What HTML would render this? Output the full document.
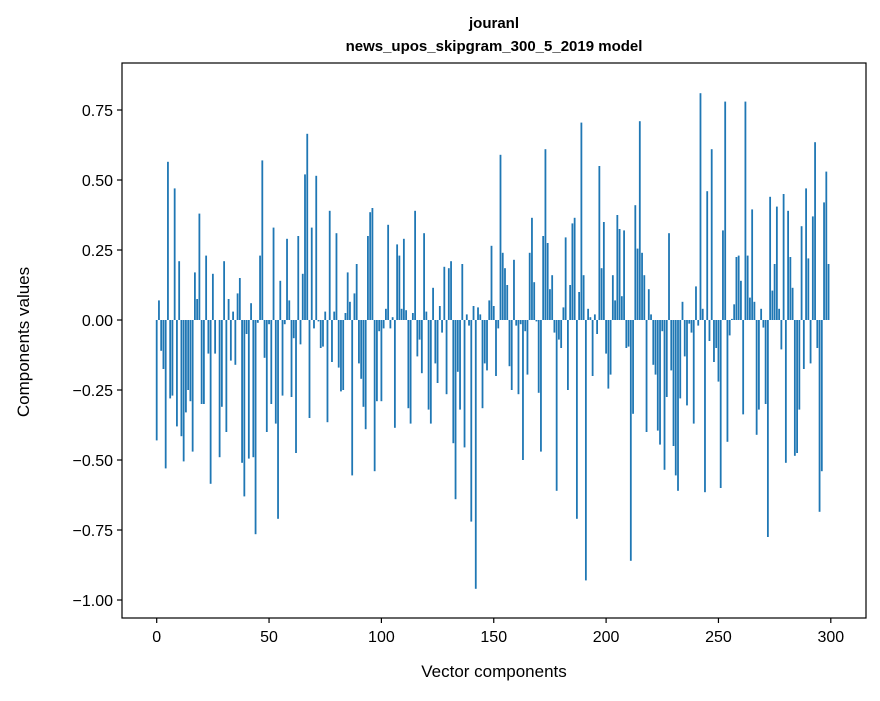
<!DOCTYPE html>
<html><head><meta charset="utf-8"><style>
body{margin:0;background:#fff;}
svg text{font-family:"Liberation Sans","DejaVu Sans",sans-serif;fill:#000;}
</style></head><body>
<svg id="chart" width="880" height="696" xmlns="http://www.w3.org/2000/svg">
<text x="494" y="28" font-size="15" font-weight="bold" text-anchor="middle">jouranl</text>
<text x="494" y="51" font-size="15" font-weight="bold" text-anchor="middle">news_upos_skipgram_300_5_2019 model</text>
<g id="bars"></g>
<g id="axes"></g>
<text x="494" y="677" font-size="17" text-anchor="middle">Vector components</text>
<text x="0" y="0" font-size="17" text-anchor="middle" transform="translate(29,342) rotate(-90)">Components values</text>
</svg>
<script>
const values = [-0.43,0.07,-0.11,-0.175,-0.53,0.565,-0.28,-0.27,0.47,-0.38,
0.21,-0.415,-0.505,-0.33,-0.25,-0.29,-0.47,0.17,0.075,0.38,
-0.30,-0.30,0.23,-0.12,-0.585,0.165,-0.12,0.0,-0.49,-0.31,
0.21,-0.40,0.075,-0.145,0.03,-0.16,0.095,0.15,-0.51,-0.63,
-0.05,-0.495,0.06,-0.49,-0.765,-0.01,0.23,0.57,-0.135,-0.40,
-0.015,-0.30,0.33,-0.37,-0.71,0.14,-0.27,-0.015,0.29,0.07,
-0.275,-0.065,-0.475,0.30,-0.087,0.165,0.52,0.665,-0.35,0.33,
-0.03,0.515,-0.005,-0.10,-0.095,0.03,-0.365,0.39,-0.15,0.03,
0.31,-0.17,-0.255,-0.25,0.025,0.17,0.065,-0.555,0.095,0.20,
-0.155,-0.21,-0.31,-0.39,0.30,0.385,0.40,-0.54,-0.29,-0.04,
-0.29,-0.03,0.04,0.34,-0.03,0.01,-0.385,0.27,0.23,0.04,
0.29,0.035,-0.315,-0.37,0.025,0.39,-0.13,-0.07,-0.19,0.31,
0.03,-0.32,-0.37,0.115,-0.155,-0.225,0.05,-0.045,0.19,-0.265,
0.185,0.21,-0.44,-0.64,-0.185,-0.32,0.20,-0.455,0.02,-0.02,
-0.72,0.05,-0.96,0.045,0.02,-0.315,-0.155,-0.18,0.07,0.265,
0.05,-0.20,-0.03,0.59,0.24,0.185,0.125,-0.165,-0.25,0.215,
-0.02,-0.265,-0.015,-0.50,-0.04,-0.195,0.24,0.365,0.135,-0.005,
-0.26,-0.47,0.30,0.61,0.275,0.11,0.16,-0.045,-0.61,-0.07,
-0.10,0.045,0.295,-0.25,0.125,0.345,0.365,-0.71,0.10,0.705,
0.16,-0.93,0.04,0.01,-0.20,0.02,-0.05,0.55,0.185,0.35,
-0.12,-0.245,-0.195,0.16,0.07,0.375,0.325,0.085,0.32,-0.10,
-0.095,-0.86,-0.335,0.41,0.255,0.71,0.24,0.16,-0.40,0.11,
0.02,-0.16,-0.195,-0.395,-0.445,-0.04,-0.535,-0.275,0.31,-0.18,
-0.45,-0.555,-0.61,-0.28,0.065,-0.13,-0.305,-0.013,-0.045,-0.37,
0.12,-0.02,0.81,0.04,-0.615,0.46,-0.075,0.61,-0.15,-0.10,
-0.22,-0.60,0.32,0.78,-0.435,-0.055,0.004,0.056,0.225,0.23,
0.14,-0.337,0.78,0.23,0.08,0.395,0.065,-0.41,-0.32,0.04,
-0.027,-0.30,-0.775,0.44,0.105,0.20,0.405,0.04,-0.105,0.45,
-0.51,0.39,0.225,0.115,-0.485,-0.475,-0.32,0.335,-0.175,0.47,
0.22,-0.155,0.37,0.635,-0.10,-0.685,-0.54,0.42,0.53,0.20];
const xTicks = [0,50,100,150,200,250,300];
const yTicks = [0.75,0.50,0.25,0.00,-0.25,-0.50,-0.75,-1.00];
const yTickLabels = ["0.75","0.50","0.25","0.00","\u22120.25","\u22120.50","\u22120.75","\u22121.00"];

const NS="http://www.w3.org/2000/svg";
const L=122, R=866, T=63, B=618;
const xs = v => 156.7 + v*2.247;
const ys = v => 320 - v*280;
const bars=document.getElementById('bars');
values.forEach((v,i)=>{
  const r=document.createElementNS(NS,'rect');
  const x0=xs(i-0.4), x1=xs(i+0.4);
  const y0=Math.min(ys(v),ys(0)), h=Math.abs(ys(v)-ys(0));
  r.setAttribute('x',x0);r.setAttribute('width',x1-x0);
  r.setAttribute('y',y0);r.setAttribute('height',Math.max(h,0.01));
  r.setAttribute('fill','#1f77b4');
  
  
  bars.appendChild(r);
});
const ax=document.getElementById('axes');
function add(tag,attrs,text){const e=document.createElementNS(NS,tag);for(const k in attrs)e.setAttribute(k,attrs[k]);if(text!==undefined)e.textContent=text;ax.appendChild(e);return e;}
const frame=add('rect',{x:L,y:T,width:R-L,height:B-T,fill:'none',stroke:'#000','stroke-width':1.2});


xTicks.forEach(t=>{
  const x=xs(t);
  const ln=add('line',{x1:x,x2:x,y1:B,y2:B+5,stroke:'#000','stroke-width':1.2});
  
  
  const tx=add('text',{x:x,y:B+24,'font-size':16,'text-anchor':'middle'},String(t));
  
  
});
yTicks.forEach((t,i)=>{
  const y=ys(t);
  const ln=add('line',{x1:L-5,x2:L,y1:y,y2:y,stroke:'#000','stroke-width':1.2});
  
  
  const tx=add('text',{x:L-9,y:y+6,'font-size':16,'text-anchor':'end'},yTickLabels[i]);
  
  
});
</script>
</body></html>
